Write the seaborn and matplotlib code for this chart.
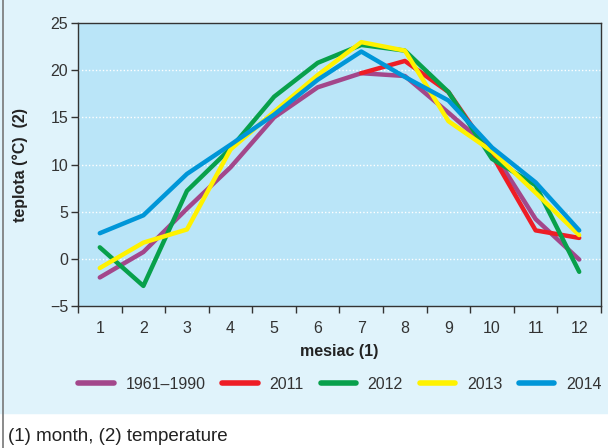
import numpy as np
import pandas as pd
import matplotlib
matplotlib.use("Agg")
import matplotlib.pyplot as plt
from matplotlib.patches import Rectangle
from matplotlib.lines import Line2D
import seaborn as sns

# Data
months = list(range(1, 13))
t_1961_1990 = [-2.0, 0.7, 5.3, 9.7, 15.0, 18.2, 19.7, 19.4, 15.5, 11.5, 4.2, -0.1]
t_2011 = [np.nan, np.nan, np.nan, np.nan, np.nan, np.nan, 19.7, 21.0, 17.7, 11.0, 3.0, 2.2]
t_2012 = [1.2, -2.9, 7.2, 11.7, 17.2, 20.8, 22.7, 22.1, 17.7, 10.6, 7.8, -1.4]
t_2013 = [-1.0, 1.7, 3.1, 11.6, 15.6, 19.5, 23.0, 22.1, 14.6, 11.4, 7.0, 2.5]
t_2014 = [2.7, 4.6, 9.0, 12.1, 15.3, 19.0, 22.0, 19.3, 16.8, 11.8, 8.1, 3.0]

series_names = ["1961–1990", "2011", "2012", "2013", "2014"]
series_values = [t_1961_1990, t_2011, t_2012, t_2013, t_2014]
colors = ["#a3478b", "#ee1d25", "#08a04b", "#fff200", "#0096d8"]

df = pd.concat(
    [pd.DataFrame({"mesiac": months, "teplota": v, "rok": n}) for n, v in zip(series_names, series_values)],
    ignore_index=True,
)

sns.set_style("white")
plt.rcParams["font.family"] = ["Liberation Sans", "DejaVu Sans"]

fig = plt.figure(figsize=(6.08, 4.48), dpi=100)
fig.patch.set_facecolor("white")
fig.patches.append(Rectangle((0, 35 / 448), 1, 1, transform=fig.transFigure, color="#e0f3fb", zorder=-5))
fig.lines.append(Line2D([2.5 / 608, 2.5 / 608], [0, 1], transform=fig.transFigure, color="#777777",
                        lw=1.2, zorder=-4))

ax = fig.add_axes([78 / 608, 142.3 / 448, 523 / 608, 282.4 / 448])
ax.set_zorder(2)
ax.set_facecolor("#bae5f8")

sns.lineplot(data=df, x="mesiac", y="teplota", hue="rok", hue_order=series_names,
             palette=colors, lw=3.2, ax=ax, legend=True)

ax.set_xlim(0.5, 12.5)
ax.set_ylim(-5, 25)
ax.set_xticks(months)
ax.set_xticks(np.arange(0.5, 13, 1), minor=True)
ax.set_yticks([-5, 0, 5, 10, 15, 20, 25])
ax.set_yticklabels(["\u22125", "0", "5", "10", "15", "20", "25"])
ax.tick_params(axis="x", which="major", length=0, pad=11, labelsize=11.5, labelcolor="#333333")
ax.tick_params(axis="x", which="minor", length=5, width=1, color="#333333", direction="out", bottom=True)
ax.tick_params(axis="y", length=5, width=1, color="#333333", direction="out", left=True, pad=2,
               labelsize=11.5, labelcolor="#333333")
for y in [0, 5, 10, 15, 20]:
    ax.axhline(y, color="white", lw=1, ls=(0, (1, 1.5)), zorder=1)
for s in ax.spines.values():
    s.set_color("#333333")
    s.set_linewidth(1)

ax.set_xlabel("mesiac (1)", fontsize=11.5, fontweight="bold", color="#222222", labelpad=6)
ax.set_ylabel("teplota (°C)  (2)", fontsize=11.5, fontweight="bold", color="#222222", labelpad=16)

handles, labels = ax.get_legend_handles_labels()
ax.get_legend().remove()
for h in handles:
    h.set_linewidth(4)
fig.legend(handles, labels, loc="center", bbox_to_anchor=(340 / 608, 64 / 448), ncol=5, frameon=False,
           fontsize=11.5, handlelength=2.2, handletextpad=0.75, columnspacing=1.05, labelcolor="#333333")

fig.text(8 / 608, 12 / 448, "(1) month, (2) temperature", fontsize=13.5, color="#222222", va="center")

fig.savefig("out.png", dpi=100, facecolor=fig.get_facecolor())
